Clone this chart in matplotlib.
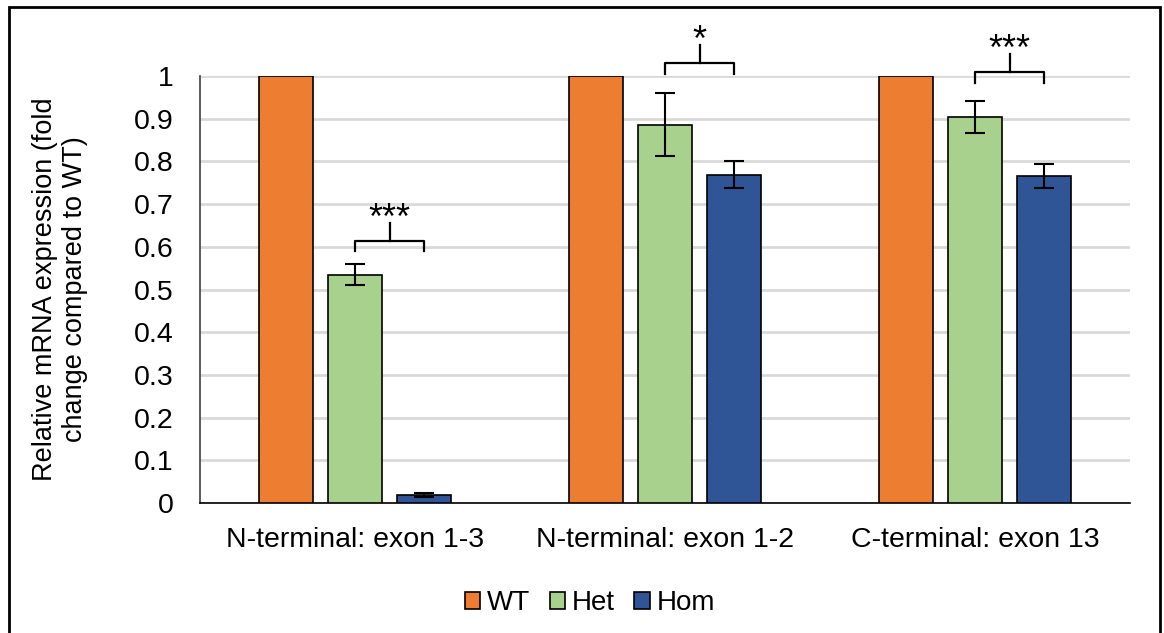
import matplotlib
matplotlib.use("Agg")
import matplotlib.pyplot as plt
import numpy as np
from matplotlib.patches import Rectangle

plt.rcParams['font.family'] = ['Liberation Sans', 'DejaVu Sans']

categories = ["N-terminal: exon 1-3", "N-terminal: exon 1-2", "C-terminal: exon 13"]
series = ["WT", "Het", "Hom"]
wt = [1.0, 1.0, 1.0]
het = [0.535, 0.886, 0.904]
hom = [0.019, 0.769, 0.766]
het_err = [0.025, 0.074, 0.037]
hom_err = [0.004, 0.032, 0.028]
stars = ["***", "*", "***"]
bracket_y = [0.614, 1.030, 1.009]
yticks = [0, 0.1, 0.2, 0.3, 0.4, 0.5, 0.6, 0.7, 0.8, 0.9, 1]
ytick_labels = ["0", "0.1", "0.2", "0.3", "0.4", "0.5", "0.6", "0.7", "0.8", "0.9", "1"]

colors = ["#ED7D31", "#A9D18E", "#2F5597"]

fig = plt.figure(figsize=(11.64, 6.33), dpi=100)
ax = fig.add_axes([200/1164, 1 - 503/633, 930/1164, 427/633])

x = np.arange(len(categories))
step = 69/310
width = 54/310
vals = [wt, het, hom]
errs = [None, het_err, hom_err]
for i, (v, e, c, name) in enumerate(zip(vals, errs, colors, series)):
    pos = x + (i - 1) * step
    ax.bar(pos, v, width, color=c, edgecolor="black", linewidth=1.2, label=name, zorder=3)
    if e is not None:
        ax.errorbar(pos, v, yerr=e, fmt="none", ecolor="black", elinewidth=1.5,
                    capsize=7, capthick=1.5, zorder=4)

# significance brackets between Het and Hom
drop = 0.025
rise = 0.042
for j in range(len(categories)):
    x1 = x[j]
    x2 = x[j] + step
    yb = bracket_y[j]
    xm = (x1 + x2) / 2
    ax.plot([x1, x1, x2, x2], [yb - drop, yb, yb, yb - drop], color="black",
            linewidth=1.6, clip_on=False, zorder=5, solid_joinstyle="round")
    ax.plot([xm, xm], [yb, yb + rise], color="black", linewidth=1.6, clip_on=False, zorder=5)
    ax.text(xm, yb + rise - 0.014, stars[j], ha="center", va="baseline", fontsize=26,
            clip_on=False)

ax.set_xlim(-0.5, 2.5)
ax.set_ylim(0, 1)
ax.set_yticks(yticks)
ax.set_yticklabels(ytick_labels)
ax.set_xticks(x)
ax.set_xticklabels(categories)
ax.tick_params(axis="both", length=0, labelsize=20.5)
ax.tick_params(axis="y", pad=19)
ax.tick_params(axis="x", pad=17)
ax.yaxis.grid(True, color="#D9D9D9", linewidth=2, zorder=0)
ax.set_axisbelow(True)
for s in ["top", "right"]:
    ax.spines[s].set_visible(False)
ax.spines["left"].set_color("#404040")
ax.spines["left"].set_linewidth(1.2)
ax.spines["bottom"].set_color("black")
ax.spines["bottom"].set_linewidth(1.2)

ax.set_ylabel("Relative mRNA expression (fold\nchange compared to WT)", fontsize=19.5,
              linespacing=1.2)
ax.yaxis.set_label_coords(-0.120, 0.5)

leg = fig.legend(loc="center", bbox_to_anchor=(590/1164, 1 - 603/633), ncol=3,
                 frameon=False, fontsize=20, handlelength=0.55, handleheight=0.55,
                 handletextpad=0.25, columnspacing=0.7)
for h in leg.legend_handles:
    h.set_edgecolor("black")
    h.set_linewidth(1.2)

fig.patches.append(Rectangle((9/1164, -0.05), (1160-9)/1164, 1 - 7/633 + 0.05,
                             transform=fig.transFigure, fill=False,
                             edgecolor="black", linewidth=2))

fig.savefig("out.png", dpi=100)
